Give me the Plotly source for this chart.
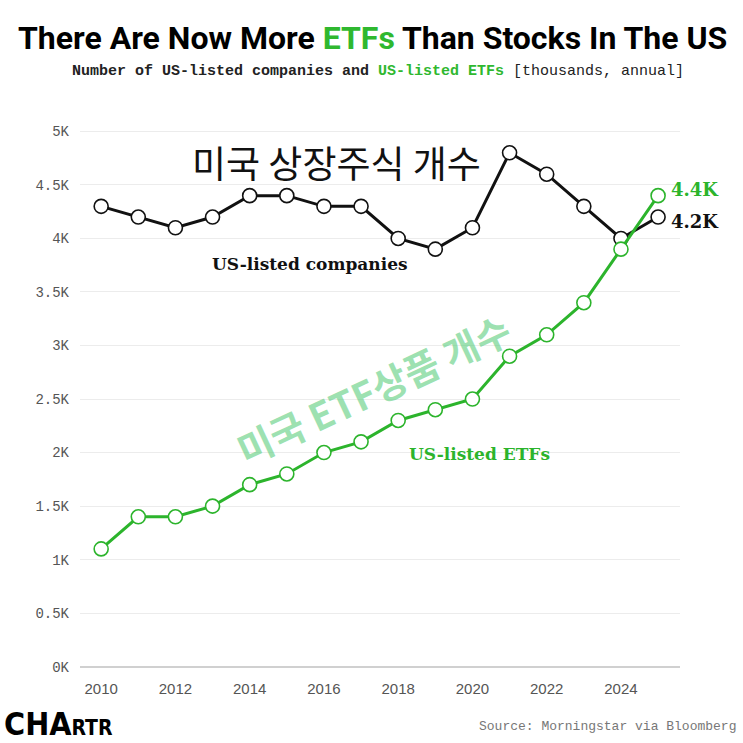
import plotly.graph_objects as go

years = list(range(2010, 2026))
companies = [4.3, 4.2, 4.1, 4.2, 4.4, 4.4, 4.3, 4.3, 4.0, 3.9, 4.1, 4.8, 4.6, 4.3, 4.0, 4.2]
etfs = [1.1, 1.4, 1.4, 1.5, 1.7, 1.8, 2.0, 2.1, 2.3, 2.4, 2.5, 2.9, 3.1, 3.4, 3.9, 4.4]
ytick_vals = [0, 0.5, 1, 1.5, 2, 2.5, 3, 3.5, 4, 4.5, 5]
ytick_text = ["0K", "0.5K", "1K", "1.5K", "2K", "2.5K", "3K", "3.5K", "4K", "4.5K", "5K"]
xtick_vals = [2010, 2012, 2014, 2016, 2018, 2020, 2022, 2024]

GREEN = "#2cb42c"
BLACK = "#111111"

fig = go.Figure()
fig.add_trace(go.Scatter(x=years, y=companies, mode="lines+markers",
                         line=dict(color=BLACK, width=3),
                         marker=dict(size=14, color="white", line=dict(color=BLACK, width=1.6)),
                         showlegend=False))
fig.add_trace(go.Scatter(x=years, y=etfs, mode="lines+markers",
                         line=dict(color=GREEN, width=3),
                         marker=dict(size=14, color="white", line=dict(color=GREEN, width=1.6)),
                         showlegend=False))

serif = "DejaVu Serif, Liberation Serif, serif"
mono = "Liberation Mono, DejaVu Sans Mono, monospace"

ann = []
ann.append(dict(x=0.5, y=1.0, xref="paper", yref="paper", xanchor="center", yanchor="bottom", showarrow=False,
                text="<b>There Are Now More <span style='color:#2fb82f'>ETFs</span> Than Stocks In The US</b>",
                font=dict(family="Roboto, sans-serif", size=32, color="#000"),
                xshift=-8, yshift=51))
ann.append(dict(x=0.5, y=1.0, xref="paper", yref="paper", xanchor="center", yanchor="bottom", showarrow=False,
                text="<b>Number of US-listed companies and <span style='color:#2fb82f'>US-listed ETFs</span></b> [thousands, annual]",
                font=dict(family=mono, size=15, color="#222"), xshift=-2, yshift=28))
ann.append(dict(x=2025, y=companies[-1], xanchor="left", yanchor="middle", showarrow=False, xshift=11, yshift=-4,
                text="<b>%.1fK</b>" % companies[-1], font=dict(family=serif, size=18, color=BLACK)))
ann.append(dict(x=2025, y=etfs[-1], xanchor="left", yanchor="middle", showarrow=False, xshift=11, yshift=6,
                text="<b>%.1fK</b>" % etfs[-1], font=dict(family=serif, size=18, color=GREEN)))
ann.append(dict(x=2015.62, y=3.76, xanchor="center", yanchor="middle", showarrow=False,
                text="<b>US-listed companies</b>", font=dict(family=serif, size=17, color=BLACK)))
ann.append(dict(x=2020.18, y=1.99, xanchor="center", yanchor="middle", showarrow=False,
                text="<b>US-listed ETFs</b>", font=dict(family=serif, size=17, color=GREEN)))
ann.append(dict(x=2016.35, y=4.71, xanchor="center", yanchor="middle", showarrow=False,
                text="미국 상장주식 개수", font=dict(family="Noto Sans CJK KR", size=37, color="#111")))
ann.append(dict(x=2017.32, y=2.60, xanchor="center", yanchor="middle", showarrow=False, textangle=-25,
                text="<b>미국 ETF상품 개수</b>", font=dict(family="Noto Sans CJK KR", size=38, color="rgba(90,205,125,0.6)")))
ann.append(dict(x=0, y=0, xref="paper", yref="paper", xanchor="left", yanchor="bottom", showarrow=False,
                text="<b>CHA<span style='font-size:21px'>RTR</span></b>",
                font=dict(family="DejaVu Sans Condensed, Roboto, sans-serif", size=32, color="#000"),
                xshift=-78, yshift=-73))
ann.append(dict(x=1, y=0, xref="paper", yref="paper", xanchor="right", yanchor="bottom", showarrow=False,
                text="Source: Morningstar via Bloomberg", font=dict(family=mono, size=13, color="#777"),
                xshift=58, yshift=-64))

fig.update_layout(
    width=743, height=743,
    margin=dict(l=80, r=63, t=110, b=71),
    paper_bgcolor="white", plot_bgcolor="white",
    annotations=ann,
    xaxis=dict(range=[2009.43, 2025.59], tickvals=xtick_vals, ticktext=[str(v) for v in xtick_vals],
               showgrid=False, zeroline=False, showline=False, ticks="", ticklabelstandoff=6,
               tickfont=dict(family="Liberation Sans, Arial, sans-serif", size=15, color="#555")),
    yaxis=dict(range=[-0.05, 5.2], tickvals=ytick_vals, ticktext=ytick_text,
               showgrid=True, gridcolor="#ececec", gridwidth=1, zeroline=True, zerolinecolor="#d0d0d0",
               zerolinewidth=1.5, showline=False, ticks="", ticklabelstandoff=10,
               tickfont=dict(family=mono, size=14, color="#555")),
)

fig.write_html("out.html")
